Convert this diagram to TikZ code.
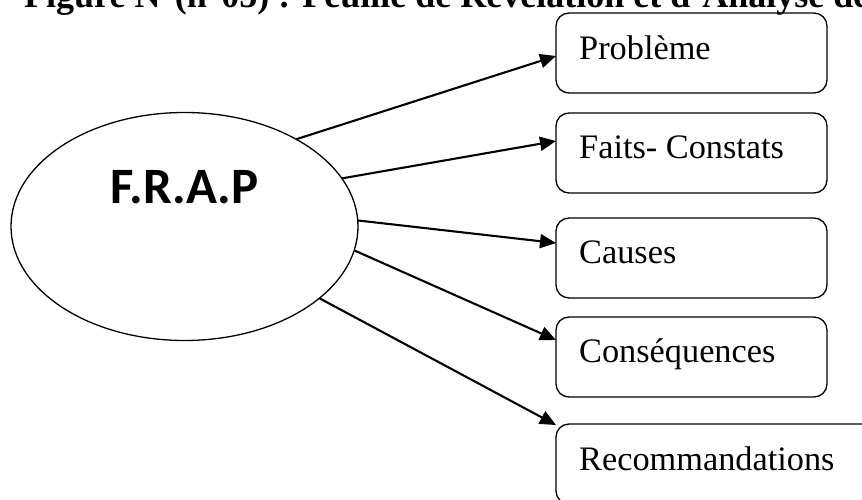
\documentclass[tikz,border=0pt]{standalone}
\usepackage{fontspec}
\setmainfont{Liberation Serif}
\newfontfamily\frapfont{Carlito}
\usetikzlibrary{shapes.geometric,arrows.meta}
\begin{document}
\begin{tikzpicture}[x=1pt,y=-1pt,
  boxstyle/.style={draw, rounded corners=13pt, line width=1.3pt, minimum width=271pt,
    minimum height=80pt, inner sep=0pt, outer sep=0pt, anchor=north west},
  boxtext/.style={anchor=base west, inner sep=0pt, font=\fontsize{34.3}{40}\selectfont},
  conn/.style={line width=2.1pt, -{Triangle[length=16pt,width=14pt]}}]
\useasboundingbox (0,0) rectangle (862,500);
\clip (0,0) rectangle (862,500);

% title (cut off at top in the reference)
\node[anchor=base west, inner sep=0pt, font=\fontsize{36}{40}\selectfont\bfseries]
  (title) at (24,7.5) {Figure N°(n°05) : Feuille de Révélation et d'Analyse des Problèmes};

% ellipse
\node[draw, ellipse, line width=1.3pt, minimum width=347pt, minimum height=228pt,
  inner sep=0pt, outer sep=0pt] (frap) at (184.5,226.5) {};
\node[anchor=base, inner sep=0pt, font=\frapfont\bfseries\fontsize{51}{56}\selectfont]
  (fraptxt) at (184.5,203.5) {F.R.A.P};

% boxes
\node[boxstyle] (b1) at (556,13) {};
\node[boxstyle] (b2) at (556,113) {};
\node[boxstyle] (b3) at (556,218) {};
\node[boxstyle] (b4) at (556,317) {};
\node[boxstyle, minimum width=330pt] (b5) at (556,424) {};

\node[boxtext] (t1) at (579,60) {Problème};
\node[boxtext] (t2) at (579,158) {Faits- Constats};
\node[boxtext] (t3) at (579,263) {Causes};
\node[boxtext] (t4) at (579,362) {Conséquences};
\node[boxtext] (t5) at (579,470) {Recommandations};

% connectors
\draw[conn] (frap.38.3) -- ([yshift=-43pt]b1.north west);
\draw[conn] (frap.17.9) -- ([yshift=-28pt]b2.north west);
\draw[conn] (frap.2.7) -- ([yshift=-25pt]b3.north west);
\draw[conn] (frap.-8.8) -- ([yshift=-23pt]b4.north west);
\draw[conn] (frap.-28) -- ([yshift=-1pt]b5.north west);
\end{tikzpicture}
\end{document}
